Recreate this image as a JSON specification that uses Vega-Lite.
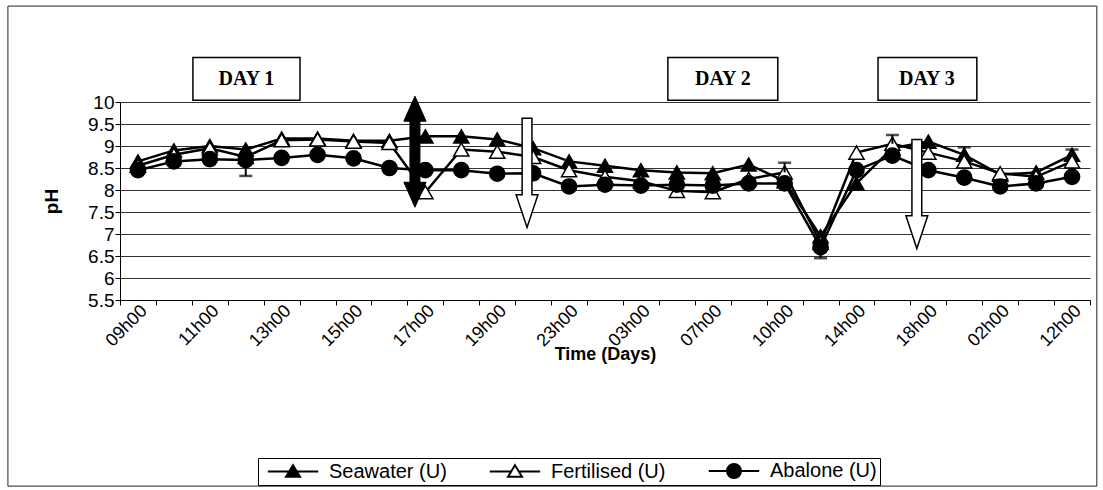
{
  "$schema": "https://vega.github.io/schema/vega-lite/v6.json",
  "width": 970,
  "height": 198,
  "autosize": {"type": "none"},
  "padding": {"left": 120, "top": 102, "right": 13, "bottom": 190},
  "background": "white",
  "config": {"view": {"stroke": null}, "font": "Liberation Sans"},
  "data": {"values": [
    {"i":0,"time":"09h00","series":"Seawater (U)","pH":8.65},
    {"i":1,"time":"10h00","series":"Seawater (U)","pH":8.9},
    {"i":2,"time":"11h00","series":"Seawater (U)","pH":9.0},
    {"i":3,"time":"12h00","series":"Seawater (U)","pH":8.92},
    {"i":4,"time":"13h00","series":"Seawater (U)","pH":9.17},
    {"i":5,"time":"14h00","series":"Seawater (U)","pH":9.17},
    {"i":6,"time":"15h00","series":"Seawater (U)","pH":9.12},
    {"i":7,"time":"16h00","series":"Seawater (U)","pH":9.12},
    {"i":8,"time":"17h00","series":"Seawater (U)","pH":9.22},
    {"i":9,"time":"18h00","series":"Seawater (U)","pH":9.22},
    {"i":10,"time":"19h00","series":"Seawater (U)","pH":9.15},
    {"i":11,"time":"21h00","series":"Seawater (U)","pH":8.95},
    {"i":12,"time":"23h00","series":"Seawater (U)","pH":8.65},
    {"i":13,"time":"01h00","series":"Seawater (U)","pH":8.55},
    {"i":14,"time":"03h00","series":"Seawater (U)","pH":8.45},
    {"i":15,"time":"05h00","series":"Seawater (U)","pH":8.4},
    {"i":16,"time":"07h00","series":"Seawater (U)","pH":8.38},
    {"i":17,"time":"08h00","series":"Seawater (U)","pH":8.58},
    {"i":18,"time":"10h00","series":"Seawater (U)","pH":8.2},
    {"i":19,"time":"12h00","series":"Seawater (U)","pH":6.95},
    {"i":20,"time":"14h00","series":"Seawater (U)","pH":8.15},
    {"i":21,"time":"16h00","series":"Seawater (U)","pH":8.95},
    {"i":22,"time":"18h00","series":"Seawater (U)","pH":9.1},
    {"i":23,"time":"22h00","series":"Seawater (U)","pH":8.8},
    {"i":24,"time":"02h00","series":"Seawater (U)","pH":8.35},
    {"i":25,"time":"07h00","series":"Seawater (U)","pH":8.4},
    {"i":26,"time":"12h00","series":"Seawater (U)","pH":8.8},
    {"i":0,"time":"09h00","series":"Fertilised (U)","pH":8.55},
    {"i":1,"time":"10h00","series":"Fertilised (U)","pH":8.8},
    {"i":2,"time":"11h00","series":"Fertilised (U)","pH":8.95},
    {"i":3,"time":"12h00","series":"Fertilised (U)","pH":8.75},
    {"i":4,"time":"13h00","series":"Fertilised (U)","pH":9.13},
    {"i":5,"time":"14h00","series":"Fertilised (U)","pH":9.15},
    {"i":6,"time":"15h00","series":"Fertilised (U)","pH":9.1},
    {"i":7,"time":"16h00","series":"Fertilised (U)","pH":9.07},
    {"i":8,"time":"17h00","series":"Fertilised (U)","pH":7.95},
    {"i":9,"time":"18h00","series":"Fertilised (U)","pH":8.92},
    {"i":10,"time":"19h00","series":"Fertilised (U)","pH":8.87},
    {"i":11,"time":"21h00","series":"Fertilised (U)","pH":8.75},
    {"i":12,"time":"23h00","series":"Fertilised (U)","pH":8.45},
    {"i":13,"time":"01h00","series":"Fertilised (U)","pH":8.3},
    {"i":14,"time":"03h00","series":"Fertilised (U)","pH":8.2},
    {"i":15,"time":"05h00","series":"Fertilised (U)","pH":7.98},
    {"i":16,"time":"07h00","series":"Fertilised (U)","pH":7.95},
    {"i":17,"time":"08h00","series":"Fertilised (U)","pH":8.25},
    {"i":18,"time":"10h00","series":"Fertilised (U)","pH":8.4},
    {"i":19,"time":"12h00","series":"Fertilised (U)","pH":6.8},
    {"i":20,"time":"14h00","series":"Fertilised (U)","pH":8.85},
    {"i":21,"time":"16h00","series":"Fertilised (U)","pH":9.05},
    {"i":22,"time":"18h00","series":"Fertilised (U)","pH":8.85},
    {"i":23,"time":"22h00","series":"Fertilised (U)","pH":8.65},
    {"i":24,"time":"02h00","series":"Fertilised (U)","pH":8.38},
    {"i":25,"time":"07h00","series":"Fertilised (U)","pH":8.3},
    {"i":26,"time":"12h00","series":"Fertilised (U)","pH":8.65},
    {"i":0,"time":"09h00","series":"Abalone (U)","pH":8.45},
    {"i":1,"time":"10h00","series":"Abalone (U)","pH":8.65},
    {"i":2,"time":"11h00","series":"Abalone (U)","pH":8.7},
    {"i":3,"time":"12h00","series":"Abalone (U)","pH":8.68},
    {"i":4,"time":"13h00","series":"Abalone (U)","pH":8.73},
    {"i":5,"time":"14h00","series":"Abalone (U)","pH":8.8},
    {"i":6,"time":"15h00","series":"Abalone (U)","pH":8.72},
    {"i":7,"time":"16h00","series":"Abalone (U)","pH":8.5},
    {"i":8,"time":"17h00","series":"Abalone (U)","pH":8.45},
    {"i":9,"time":"18h00","series":"Abalone (U)","pH":8.45},
    {"i":10,"time":"19h00","series":"Abalone (U)","pH":8.37},
    {"i":11,"time":"21h00","series":"Abalone (U)","pH":8.38},
    {"i":12,"time":"23h00","series":"Abalone (U)","pH":8.08},
    {"i":13,"time":"01h00","series":"Abalone (U)","pH":8.12},
    {"i":14,"time":"03h00","series":"Abalone (U)","pH":8.1},
    {"i":15,"time":"05h00","series":"Abalone (U)","pH":8.12},
    {"i":16,"time":"07h00","series":"Abalone (U)","pH":8.1},
    {"i":17,"time":"08h00","series":"Abalone (U)","pH":8.15},
    {"i":18,"time":"10h00","series":"Abalone (U)","pH":8.15},
    {"i":19,"time":"12h00","series":"Abalone (U)","pH":6.7},
    {"i":20,"time":"14h00","series":"Abalone (U)","pH":8.45},
    {"i":21,"time":"16h00","series":"Abalone (U)","pH":8.78},
    {"i":22,"time":"18h00","series":"Abalone (U)","pH":8.45},
    {"i":23,"time":"22h00","series":"Abalone (U)","pH":8.28},
    {"i":24,"time":"02h00","series":"Abalone (U)","pH":8.08},
    {"i":25,"time":"07h00","series":"Abalone (U)","pH":8.15},
    {"i":26,"time":"12h00","series":"Abalone (U)","pH":8.3}
  ]},
  "encoding": {
    "x": {
      "field": "i", "type": "quantitative",
      "scale": {"domain": [-0.5, 26.5], "nice": false, "zero": false},
      "axis": {
        "title": "Time (Days)",
        "values": [-0.5,0.5,1.5,2.5,3.5,4.5,5.5,6.5,7.5,8.5,9.5,10.5,11.5,12.5,13.5,14.5,15.5,16.5,17.5,18.5,19.5,20.5,21.5,22.5,23.5,24.5,25.5,26.5],
        "labelExpr": "((datum.value + 0.5) % 2 == 0) ? ['09h00','10h00','11h00','12h00','13h00','14h00','15h00','16h00','17h00','18h00','19h00','21h00','23h00','01h00','03h00','05h00','07h00','08h00','10h00','12h00','14h00','16h00','18h00','22h00','02h00','07h00','12h00'][datum.value + 0.5] : ''",
        "labelAngle": -45, "labelAlign": "right", "labelBaseline": "middle",
        "labelOffset": 24, "labelOverlap": false, "labelFlush": false, "labelPadding": 3,
        "labelFontSize": 18, "labelColor": "black",
        "grid": false, "tickSize": 5, "tickColor": "black", "domainColor": "black",
        "titleFontSize": 18, "titleFontWeight": "bold", "titleColor": "black", "titlePadding": -4
      }
    },
    "y": {
      "field": "pH", "type": "quantitative",
      "scale": {"domain": [5.5, 10], "nice": false, "zero": false},
      "axis": {
        "title": "pH", "values": [5.5,6,6.5,7,7.5,8,8.5,9,9.5,10], "format": "~g",
        "grid": true, "gridColor": "#333333", "gridWidth": 1,
        "tickSize": 5, "tickColor": "black", "domainColor": "black",
        "labelFontSize": 19, "labelColor": "black", "labelPadding": 1,
        "titleFontSize": 19, "titleFontWeight": "bold", "titleColor": "black", "titlePadding": 26
      }
    }
  },
  "layer": [
    {
      "data": {"values": [{"i": -3.62, "i2": 26.69, "pH": 1.27, "pH2": 12.18}]},
      "mark": {"type": "rect", "fill": null, "fillOpacity": 0, "stroke": "#222222", "strokeWidth": 1},
      "encoding": {"x2": {"field": "i2"}, "y2": {"field": "pH2"}}
    },
    {
      "mark": {"type": "line", "stroke": "black", "strokeWidth": 2.5},
      "encoding": {"detail": {"field": "series", "type": "nominal"}}
    },
    {
      "mark": {"type": "point", "filled": true, "stroke": "black", "strokeWidth": 1.5, "size": 230, "opacity": 1},
      "encoding": {
        "shape": {"field": "series", "type": "nominal", "scale": {"domain": ["Seawater (U)", "Fertilised (U)", "Abalone (U)"], "range": ["triangle-up", "triangle-up", "circle"]}, "legend": null},
        "fill": {"field": "series", "type": "nominal", "scale": {"domain": ["Seawater (U)", "Fertilised (U)", "Abalone (U)"], "range": ["black", "white", "black"]}, "legend": null}
      }
    },
    {
      "data": {"values": [
        {"i":3,"pH":8.68,"pH2":8.32},
        {"i":18,"pH":8.4,"pH2":8.62},
        {"i":19,"pH":6.7,"pH2":6.45},
        {"i":21,"pH":9.05,"pH2":9.25},
        {"i":23,"pH":8.8,"pH2":8.97},
        {"i":26,"pH":8.8,"pH2":8.92}
      ]},
      "layer": [
        {"mark": {"type": "rule", "stroke": "black", "strokeWidth": 2}, "encoding": {"y2": {"field": "pH2"}}},
        {"mark": {"type": "tick", "orient": "horizontal", "size": 13, "thickness": 2.5, "color": "black"},
         "encoding": {"y": {"field": "pH2", "type": "quantitative", "scale": {"domain": [5.5, 10], "nice": false, "zero": false}}}}
      ]
    },
    {
      "mark": {"type": "point", "filled": true, "opacity": 0, "strokeWidth": 2},
      "encoding": {
        "shape": {"field": "series", "type": "nominal",
          "scale": {"domain": ["Seawater (U)", "Fertilised (U)", "Abalone (U)"],
            "range": ["M-3.6,0L3.6,0M0,-0.9L1,0.75L-1,0.75Z", "M-3.6,0L-0.55,0M0.55,0L3.6,0M0,-0.9L1,0.75L-1,0.75Z", "M-3.6,0L3.6,0M1,0A1,1,0,1,1,-1,0A1,1,0,1,1,1,0Z"]},
          "legend": {"orient": "none", "legendX": 138, "legendY": 356, "direction": "horizontal", "title": null, "symbolSize": 196, "symbolStrokeWidth": 2, "symbolOpacity": 1, "symbolOffset": 22, "labelFontSize": 20, "labelColor": "black", "strokeColor": "black", "padding": 3, "columnPadding": 36, "labelOffset": 26}},
        "fill": {"field": "series", "type": "nominal",
          "scale": {"domain": ["Seawater (U)", "Fertilised (U)", "Abalone (U)"], "range": ["black", "white", "black"]},
          "legend": {"orient": "none", "legendX": 138, "legendY": 356, "direction": "horizontal", "title": null, "symbolSize": 196, "symbolStrokeWidth": 2, "symbolOpacity": 1, "symbolOffset": 22, "labelFontSize": 20, "labelColor": "black", "strokeColor": "black", "padding": 3, "columnPadding": 36, "labelOffset": 26}},
        "stroke": {"field": "series", "type": "nominal",
          "scale": {"domain": ["Seawater (U)", "Fertilised (U)", "Abalone (U)"], "range": ["black", "black", "black"]},
          "legend": {"orient": "none", "legendX": 138, "legendY": 356, "direction": "horizontal", "title": null, "symbolSize": 196, "symbolStrokeWidth": 2, "symbolOpacity": 1, "symbolOffset": 22, "labelFontSize": 20, "labelColor": "black", "strokeColor": "black", "padding": 3, "columnPadding": 36, "labelOffset": 26}}
      }
    },
    {
      "data": {"values": [
        {"i":1.53,"i2":4.51,"pH":10.04,"pH2":11.01},
        {"i":14.75,"i2":17.81,"pH":10.04,"pH2":11.01},
        {"i":20.6,"i2":23.35,"pH":10.04,"pH2":11.01}
      ]},
      "mark": {"type": "rect", "fill": "white", "stroke": "black", "strokeWidth": 1.5},
      "encoding": {"x2": {"field": "i2"}, "y2": {"field": "pH2"}}
    },
    {
      "data": {"values": [
        {"i":3.02,"pH":10.52,"label":"DAY 1"},
        {"i":16.28,"pH":10.52,"label":"DAY 2"},
        {"i":21.96,"pH":10.52,"label":"DAY 3"}
      ]},
      "mark": {"type": "text", "font": "Liberation Serif", "fontWeight": "bold", "fontSize": 20, "color": "black", "baseline": "middle", "align": "center"},
      "encoding": {"text": {"field": "label"}}
    },
    {
      "data": {"values": [{"i":7.71,"pH":8.87}]},
      "mark": {"type": "point", "shape": "M0,-1L0.2,-0.55L0.09,-0.55L0.09,0.55L0.2,0.55L0,1L-0.2,0.55L-0.09,0.55L-0.09,-0.55L-0.2,-0.55Z", "size": 12321, "filled": true, "fill": "black", "stroke": "black", "strokeWidth": 1, "opacity": 1}
    },
    {
      "data": {"values": [{"i":10.83,"pH":8.39},{"i":21.68,"pH":7.91}]},
      "mark": {"type": "point", "shape": "M-0.09,-1L0.09,-1L0.09,0.4L0.2,0.4L0,1L-0.2,0.4L-0.09,0.4Z", "size": 11900, "filled": true, "fill": "white", "stroke": "black", "strokeWidth": 1.5, "opacity": 1}
    }
  ],
  "resolve": {"scale": {"shape": "independent", "fill": "independent", "stroke": "independent"}, "legend": {"shape": "independent", "fill": "independent", "stroke": "independent"}}
}
